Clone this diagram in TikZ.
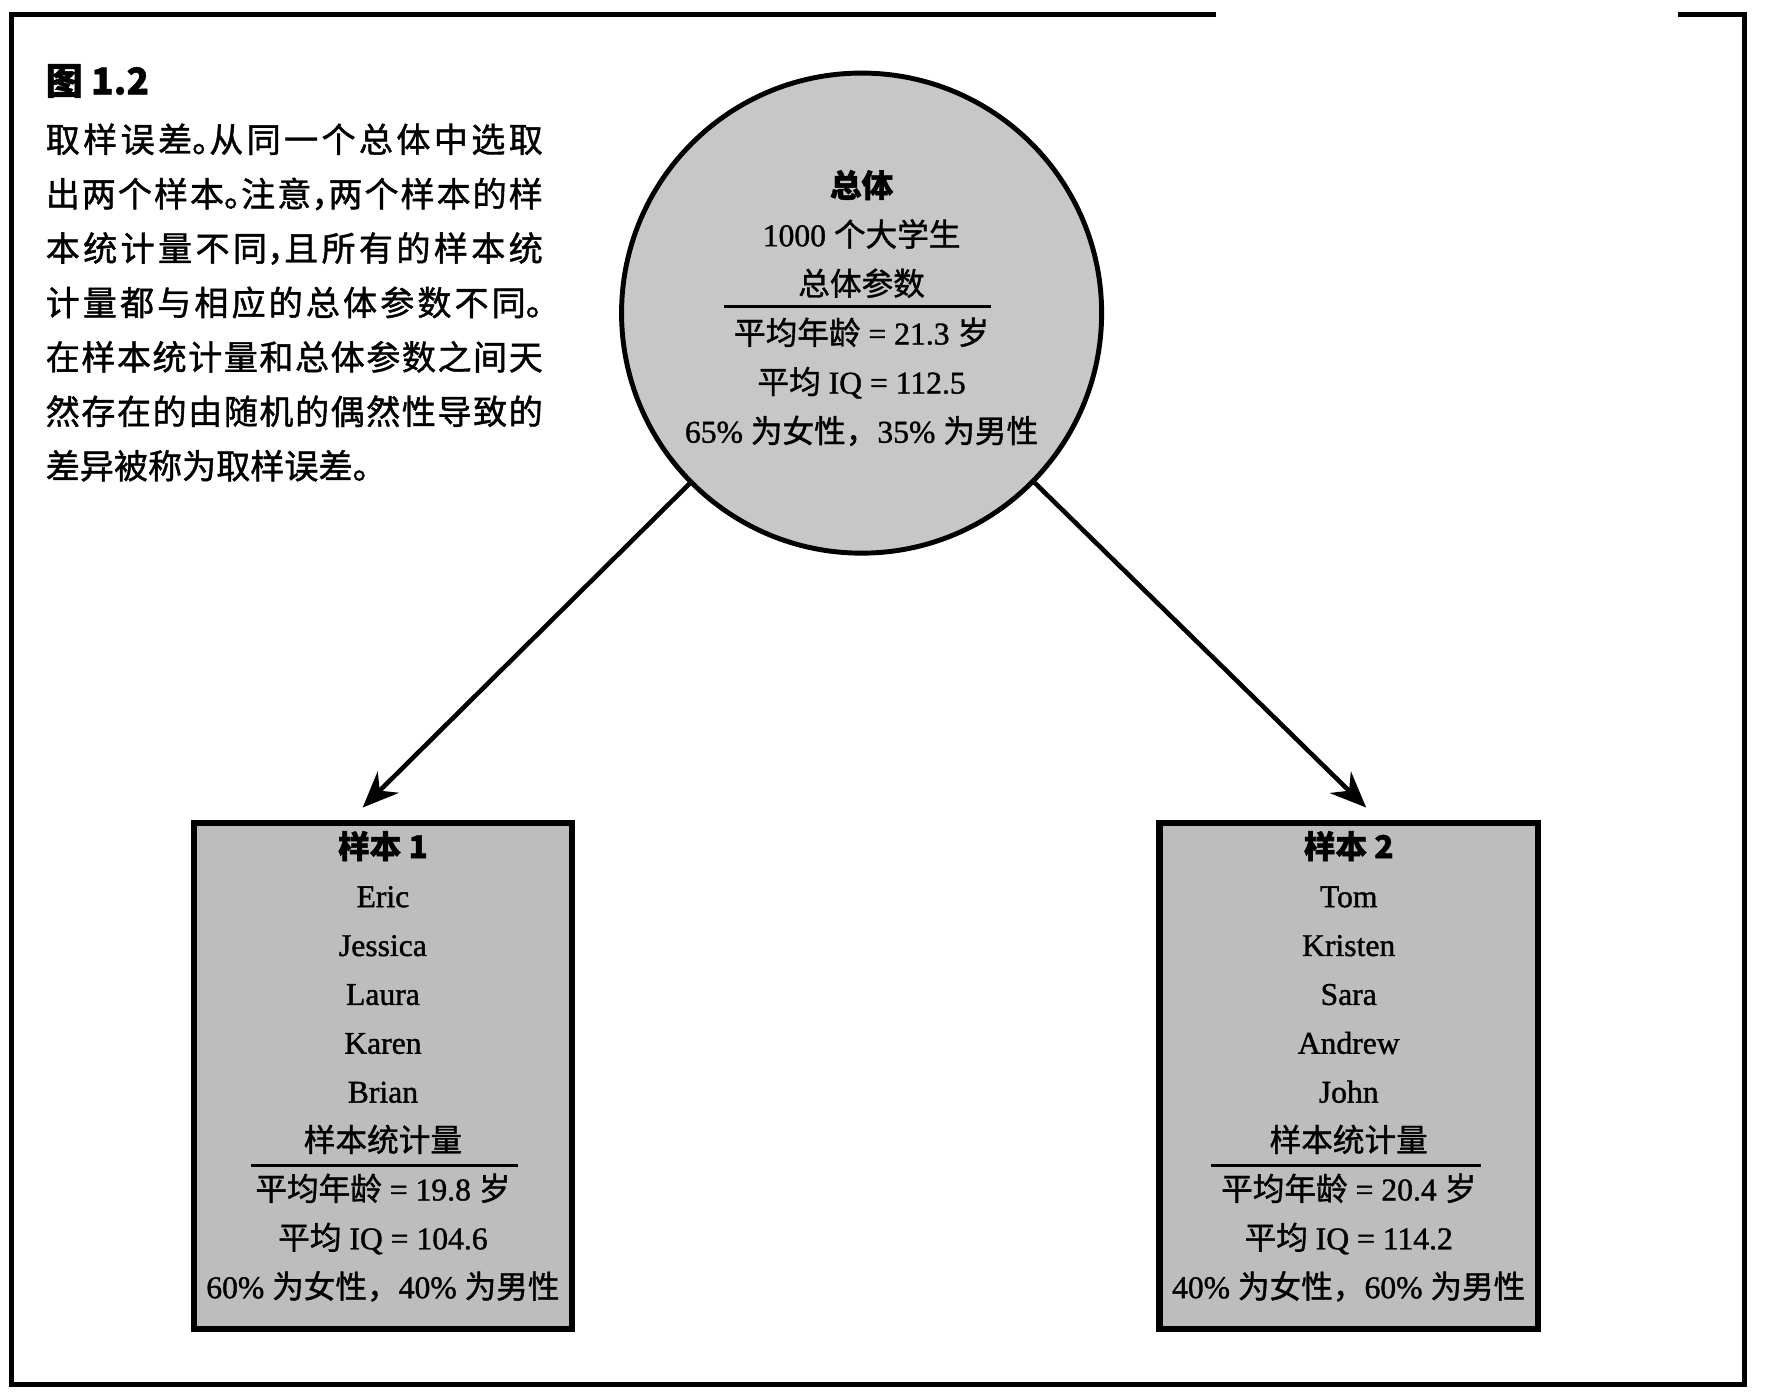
\documentclass[tikz,border=0pt]{standalone}
\usepackage{fontspec}
\setmainfont{Liberation Serif}[FakeBold=1.2]
\newfontfamily\cjk{Noto Sans CJK SC}[FakeBold=1.2]
\usetikzlibrary{arrows.meta}
\newcommand{\zh}[1]{{\cjk #1}}
\newcommand{\hpunct}[1]{\makebox[0.5em][l]{#1}}
\XeTeXlinebreaklocale "zh"
\XeTeXlinebreakskip=0pt plus 3pt
\definecolor{circlegray}{gray}{0.78}
\definecolor{boxgray}{gray}{0.74}
\tikzset{
  frameline/.style={line width=1.4pt, black},
  popcircle/.style={circle, draw, line width=1.4pt, fill=circlegray, minimum size=4.8cm, inner sep=0pt},
  samplebox/.style={rectangle, draw, line width=1.8pt, fill=boxgray, minimum width=3.784cm, minimum height=5.057cm, inner sep=0pt},
  txt/.style={anchor=base, inner sep=0pt, font=\fontsize{9}{11}\selectfont},
  conn/.style={line width=1.3pt, -{Stealth[length=0.36cm, width=0.3cm, inset=0.12cm]}},
  rulebar/.style={line width=0.9pt}
}
\begin{document}
\begin{tikzpicture}[x=0.011263cm, y=-0.011263cm]
\useasboundingbox (0,0) rectangle (1568,1238);
\fill[white] (0,0) rectangle (1568,1238);
\draw[frameline] (1080,13) -- (10,13) -- (10,1229) -- (1549,1229) -- (1549,13) -- (1490,13);

% title and description
\node[anchor=west, inner sep=0pt, font=\cjk\bfseries\fontsize{10.5}{12}\selectfont] (title) at (40,72) {图 1.2};
\node[anchor=north west, inner sep=0pt, text width=4.97cm, align=justify,
      font=\cjk\fontsize{9.7}{15.48}\selectfont] (desc) at (40,109)
{取样误差\hpunct{。}从同一个总体中选取\linebreak
出两个样本\hpunct{。}注意\hpunct{，}两个样本的样\linebreak
本统计量不同\hpunct{，}且所有的样本统\linebreak
计量都与相应的总体参数不同\hpunct{。}\linebreak
在样本统计量和总体参数之间天\linebreak
然存在的由随机的偶然性导致的\linebreak
差异被称为取样误差。};

% population circle
\node[popcircle] (pop) at (765,278) {};
\foreach \t [count=\i] in {{\cjk\bfseries 总体}, {1000 \zh{个大学生}}, {\zh{总体参数}},
  {\zh{平均年龄} = 21.3 \zh{岁}}, {\zh{平均} IQ = 112.5}, {65\% \zh{为女性，}35\% \zh{为男性}}}
  \node[txt] (pt\i) at (765,{175+43.6*(\i-1)}) {\t};
\draw[rulebar] (643,272) -- (880,272);

% sample boxes
\node[samplebox] (s1) at (340,955.5) {};
\node[samplebox] (s2) at (1197.5,955.5) {};
\foreach \t [count=\i] in {{\cjk\bfseries 样本 1}, Eric, Jessica, Laura, Karen, Brian, {\zh{样本统计量}},
  {\zh{平均年龄} = 19.8 \zh{岁}}, {\zh{平均} IQ = 104.6}, {60\% \zh{为女性，}40\% \zh{为男性}}}
  \node[txt] (sa\i) at (340,{762+43.4*(\i-1)}) {\t};
\foreach \t [count=\i] in {{\cjk\bfseries 样本 2}, Tom, Kristen, Sara, Andrew, John, {\zh{样本统计量}},
  {\zh{平均年龄} = 20.4 \zh{岁}}, {\zh{平均} IQ = 114.2}, {40\% \zh{为女性，}60\% \zh{为男性}}}
  \node[txt] (sb\i) at (1197.5,{762+43.4*(\i-1)}) {\t};
\draw[rulebar] (223,1035) -- (460,1035);
\draw[rulebar] (1075,1035) -- (1315,1035);

% connectors
\coordinate (tip1) at (322,717);
\coordinate (tip2) at (1213,717);
\draw[conn] (pop) -- (tip1);
\draw[conn] (pop) -- (tip2);
\end{tikzpicture}
\end{document}
